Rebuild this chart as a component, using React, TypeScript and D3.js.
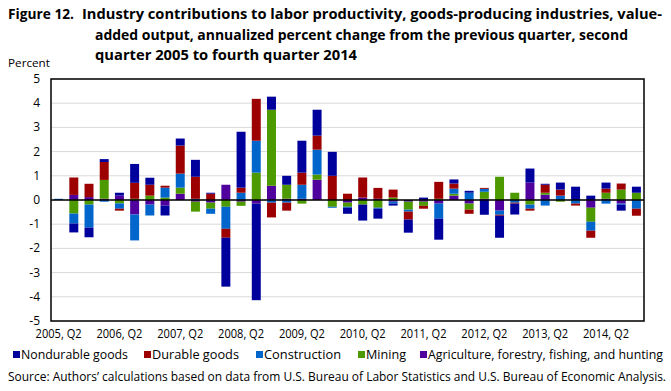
import React from "react";
import * as d3 from "d3";

const quarters: string[] = [];
for (let y = 2005; y <= 2014; y++) {
  for (let q = 1; q <= 4; q++) {
    if (y === 2005 && q === 1) continue;
    quarters.push(`${y}, Q${q}`);
  }
}

const seriesNames = [
  "Nondurable goods",
  "Durable goods",
  "Construction",
  "Mining",
  "Agriculture, forestry, fishing, and hunting",
];
const seriesColors = ["#00009c", "#9c0000", "#0066cc", "#4d9900", "#50009c"];

// values per quarter (2005 Q2 .. 2014 Q4)
const nondurable = [0, -0.37, -0.4, 0.12, 0.12, 0.78, 0.29, -0.41, 0.29, 0.7, 0.04, -2.02, 2.31, -3.99, 0.54, 0.37, 1.32, 1.07, 0.99, -0.25, -0.66, -0.41, -0.08, -0.54, 0.1, -0.87, 0.17, 0.08, -0.61, -0.91, -0.45, 0.58, 0.04, 0.29, 0.55, 0.18, 0.25, -0.25, 0.25];
const durable = [0, 0.72, 0.55, 0.74, -0.08, 0.66, 0.45, 0.08, 1.16, 0.91, 0.26, -0.37, 0.21, 1.73, -0.61, -0.33, 0.5, 0.58, 1.0, 0.26, 0.83, 0.45, 0.33, -0.33, -0.12, 0.7, 0.21, -0.17, 0.04, -0.04, -0.04, -0.08, 0.33, 0.25, -0.08, -0.29, 0.17, 0.25, -0.29];
const construction = [0.05, -0.41, -0.95, -0.07, -0.22, -1.07, -0.45, 0.41, 0.58, 0.05, -0.21, -0.91, 0.3, 1.32, -0.11, -0.11, 0.58, 1.03, -0.04, -0.04, 0, -0.04, -0.08, -0.08, 0, -0.62, 0.21, 0.3, 0.12, -0.17, -0.11, -0.17, -0.23, 0.18, -0.15, -0.37, -0.15, -0.04, -0.36];
const mining = [0, -0.56, -0.19, 0.78, -0.14, 0.05, 0.18, 0.1, 0.25, -0.41, -0.25, -0.28, -0.17, 1.13, 3.14, 0.58, -0.15, 0.21, -0.28, -0.17, -0.19, -0.32, 0.1, -0.33, -0.17, 0.05, 0.08, -0.25, 0.29, 0.96, 0.3, -0.19, 0.08, -0.07, 0, -0.58, 0.25, 0.43, 0.3];
const agriculture = [0, 0.21, 0.12, 0.05, 0.18, -0.6, -0.19, -0.23, 0.26, -0.07, -0.11, 0.63, -0.07, -0.15, 0.59, 0.05, 0.05, 0.84, 0, -0.11, 0.1, 0.05, -0.07, -0.07, -0.07, -0.15, 0.18, -0.15, 0.05, -0.44, 0, 0.72, 0.22, 0, 0, -0.32, 0.05, -0.15, 0];

const yTicks = [-5, -4, -3, -2, -1, 0, 1, 2, 3, 4, 5];

const W = 671;
const H = 391;
const plot = { left: 51, right: 644, top: 79, bottom: 321 };
const FONT = "'Open Sans', 'DejaVu Sans', sans-serif";

export default function App() {
  const keys = ["agriculture", "mining", "construction", "durable", "nondurable"];
  const colorByKey: Record<string, string> = {
    nondurable: seriesColors[0],
    durable: seriesColors[1],
    construction: seriesColors[2],
    mining: seriesColors[3],
    agriculture: seriesColors[4],
  };
  const rows = quarters.map((q, i) => ({
    q,
    nondurable: nondurable[i],
    durable: durable[i],
    construction: construction[i],
    mining: mining[i],
    agriculture: agriculture[i],
  }));
  const stacked = d3
    .stack<any>()
    .keys(keys)
    .offset(d3.stackOffsetDiverging)(rows);

  const x = d3
    .scaleBand<string>()
    .domain(quarters)
    .range([plot.left, plot.right])
    .paddingInner(0.41)
    .paddingOuter(0.205);
  const y = d3.scaleLinear().domain([-5, 5]).range([plot.bottom, plot.top]);

  const legendItems = [
    { sx: 13, w: 107 },
    { sx: 144, w: 87 },
    { sx: 256, w: 77 },
    { sx: 358, w: 40 },
    { sx: 420, w: 235 },
  ];

  return (
    <svg width={W} height={H} style={{ display: "block", position: "absolute", left: 0, top: 0 }} fontFamily={FONT}>
      <rect width={W} height={H} fill="#fff" />
      {/* title */}
      <g fontWeight="bold" fontSize={14.5} fill="#000">
        <text x={8} y={19} textLength={66} lengthAdjust="spacingAndGlyphs">Figure 12.</text>
        <text x={82} y={19} textLength={580} lengthAdjust="spacingAndGlyphs">
          Industry contributions to labor productivity, goods-producing industries, value-
        </text>
        <text x={95} y={40} textLength={533} lengthAdjust="spacingAndGlyphs">
          added output, annualized  percent change from the previous quarter, second
        </text>
        <text x={95} y={60} textLength={262} lengthAdjust="spacingAndGlyphs">
          quarter 2005 to fourth quarter 2014
        </text>
      </g>
      <text x={8} y={67} fontSize={11.5} textLength={42} lengthAdjust="spacingAndGlyphs">Percent</text>

      {/* gridlines */}
      {yTicks.map((t) => (
        <line key={"g" + t} x1={plot.left} x2={plot.right} y1={y(t)} y2={y(t)} stroke="#d9d9d9" strokeWidth={1} />
      ))}

      {/* bars */}
      {stacked.map((s) => (
        <g key={s.key} fill={colorByKey[s.key]}>
          {s.map((d, i) => {
            const y0 = y(d[0]);
            const y1 = y(d[1]);
            const h = Math.abs(y0 - y1);
            if (h < 0.01) return null;
            return (
              <rect key={i} x={x(quarters[i])} width={x.bandwidth()} y={Math.min(y0, y1)} height={h} />
            );
          })}
        </g>
      ))}

      {/* zero line */}
      <line x1={plot.left} x2={plot.right} y1={y(0)} y2={y(0)} stroke="#000" strokeWidth={1.5} />
      {/* frame */}
      <rect x={plot.left} y={plot.top} width={plot.right - plot.left} height={plot.bottom - plot.top} fill="none" stroke="#000" strokeWidth={1.5} />

      {/* y tick labels */}
      {yTicks.map((t) => (
        <text key={"t" + t} x={40} y={y(t) + 4} textAnchor="end" fontSize={12}>
          {t}
        </text>
      ))}

      {/* x tick labels */}
      {quarters.map((q, i) =>
        i % 4 === 0 ? (
          <text key={q} x={(x(q) as number) + x.bandwidth() / 2} y={338} textAnchor="middle" fontSize={12} textLength={46} lengthAdjust="spacingAndGlyphs">
            {q}
          </text>
        ) : null
      )}

      {/* legend */}
      {seriesNames.map((n, i) => (
        <g key={n}>
          <rect x={legendItems[i].sx} y={351} width={7} height={7} fill={seriesColors[i]} />
          <text x={legendItems[i].sx + 8} y={359} fontSize={12} textLength={legendItems[i].w} lengthAdjust="spacingAndGlyphs">
            {n}
          </text>
        </g>
      ))}

      {/* source */}
      <text x={8} y={381} fontSize={12} textLength={658} lengthAdjust="spacingAndGlyphs">
        Source: Authors’ calculations based on data from U.S. Bureau of Labor Statistics and U.S. Bureau of Economic Analysis.
      </text>
    </svg>
  );
}
